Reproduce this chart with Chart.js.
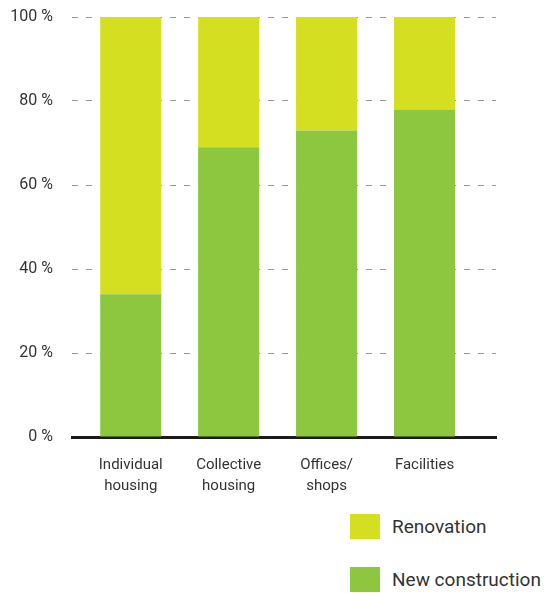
<!DOCTYPE html>
<html lang="en">
<head>
<meta charset="UTF-8">
<title>New construction vs renovation</title>
<script src="https://cdn.jsdelivr.net/npm/chart.js@4"></script>
<style>
  html, body { margin: 0; padding: 0; background: #fff; }
  #wrap { position: relative; width: 544px; height: 593px; overflow: hidden; }
  #chart { position: absolute; left: 0; top: 0; }
  #legend { position: absolute; left: 350px; top: 514px; font-family: Roboto, "Open Sans", sans-serif; font-size: 19px; color: #333; white-space: nowrap; }
  #legend .item { display: flex; align-items: center; height: 25px; margin-bottom: 28px; }
  #legend .box { width: 30px; height: 25px; margin-right: 12px; flex: none; }
</style>
</head>
<body>
<div id="wrap">
  <canvas id="chart" width="544" height="505"></canvas>
  <div id="legend"></div>
</div>
<script>
const categories = [['Individual', 'housing'], ['Collective', 'housing'], ['Offices/', 'shops'], ['Facilities']];
const newConstruction = [34, 69, 73, 78];
const renovation = [66, 31, 27, 22];
const yTicks = [0, 20, 40, 60, 80, 100];

const GREEN = '#8dc63f';
const YELLOW = '#d5df22';
const FONT = 'Roboto, "Open Sans", sans-serif';

// bars sit on integer x positions of a linear scale so the axis can run past them
const toPoints = vals => vals.map((v, i) => ({ x: i, y: v }));

const chart = new Chart(document.getElementById('chart'), {
  type: 'bar',
  data: {
    datasets: [
      { label: 'New construction', data: toPoints(newConstruction), backgroundColor: GREEN },
      { label: 'Renovation', data: toPoints(renovation), backgroundColor: YELLOW }
    ]
  },
  options: {
    responsive: false,
    animation: false,
    layout: { padding: { top: 17, right: 48, left: 0, bottom: 0 } },
    datasets: { bar: { barPercentage: 0.624, categoryPercentage: 1 } },
    plugins: { legend: { display: false }, tooltip: { enabled: false } },
    scales: {
      x: {
        type: 'linear',
        stacked: true,
        offset: false,
        min: -0.6,
        max: 3.73,
        afterBuildTicks: s => { s.ticks = categories.map((c, i) => ({ value: i })); },
        afterFit: s => { s.height = 68; },
        grid: { display: false, drawTicks: false },
        border: { display: true, color: '#1a1a1a', width: 3 },
        ticks: {
          padding: 17,
          color: '#333',
          maxRotation: 0,
          font: { family: FONT, size: 15, lineHeight: 1.45 },
          callback: v => categories[v] || ''
        }
      },
      y: {
        stacked: true,
        min: 0,
        max: 100,
        afterBuildTicks: s => { s.ticks = yTicks.map(v => ({ value: v })); },
        // the label gap would otherwise be added above and below the axis too
        afterFit: s => { s.width = 72; s.paddingTop = 0; s.paddingBottom = 0; },
        grid: { color: '#999', lineWidth: 1, drawTicks: false },
        border: { display: false, dash: [6, 8] },
        ticks: {
          padding: 19,
          color: '#333',
          font: { family: FONT, size: 16 },
          callback: v => v + ' %'
        }
      }
    }
  }
});

// legend, top to bottom in stacking order
const legend = document.getElementById('legend');
chart.data.datasets.slice().reverse().forEach(ds => {
  const item = document.createElement('div');
  item.className = 'item';
  item.innerHTML = '<span class="box" style="background:' + ds.backgroundColor + '"></span><span>' + ds.label + '</span>';
  legend.appendChild(item);
});
</script>
</body>
</html>
